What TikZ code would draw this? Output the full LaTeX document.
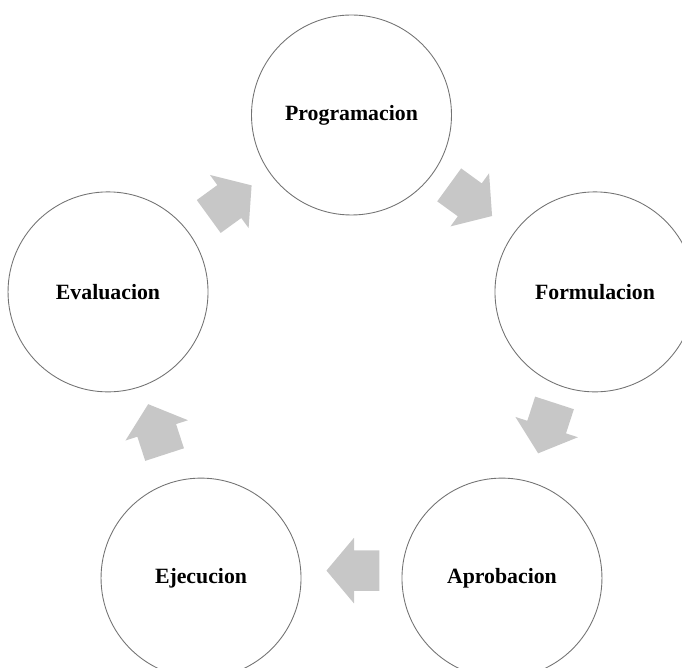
\documentclass[tikz,border=0pt]{standalone}
\usepackage{fontspec}
\setmainfont{Liberation Serif}
\usetikzlibrary{calc, shapes.arrows}

\begin{document}
\begin{tikzpicture}[
    etapa/.style={circle, draw=black!55, line width=0.5pt, minimum size=4cm, inner sep=0pt, font=\fontsize{12.4}{14}\selectfont\bfseries},
    flecha/.style={single arrow, fill=black!22, draw=none, inner xsep=0pt, inner ysep=0.4cm, minimum height=1.06cm, single arrow head extend=0.25cm, single arrow tip angle=100, rotate=#1}
]
        \useasboundingbox (0,0) rectangle (13.64,13.36);
        \clip (0,0) rectangle (13.64,13.36);
        \coordinate (c) at (7.03,5.94);

        % etapas del ciclo
        \node[etapa] (prog) at ($(c) + (90:5.12)$) {Programacion};
        \node[etapa] (form) at ($(c) + (18:5.12)$) {Formulacion};
        \node[etapa] (apro) at ($(c) + (-54:5.12)$) {Aprobacion};
        \node[etapa] (ejec) at ($(c) + (-126:5.12)$) {Ejecucion};
        \node[etapa] (eval) at ($(c) + (162:5.12)$) {Evaluacion};

        % flechas entre etapas
        \node[flecha=36] (f1) at ($(eval)!0.5!(prog) + (-0.13,-0.05)$) {};
        \node[flecha=-36] (f2) at ($(prog)!0.5!(form) + (-0.19,0.16)$) {};
        \node[flecha=-108] (f3) at ($(form)!0.5!(apro) + (0.01,0.3)$) {};
        \node[flecha=180] (f4) at ($(apro)!0.5!(ejec) + (0.2,0.15)$) {};
        \node[flecha=108] (f5) at ($(ejec)!0.5!(eval) + (0.09,-0.05)$) {};
    \end{tikzpicture}
\end{document}
